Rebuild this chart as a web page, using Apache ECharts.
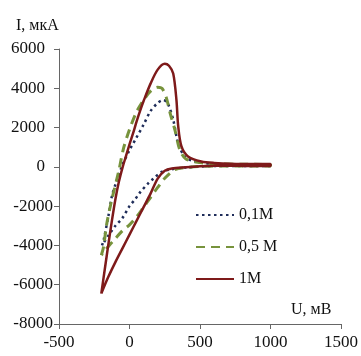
<!DOCTYPE html>
<html>
<head>
<meta charset="utf-8">
<script src="https://cdn.jsdelivr.net/npm/echarts@6/dist/echarts.min.js"></script>
<style>
html,body{margin:0;padding:0;background:#fff;}
#c{width:361px;height:356px;}
</style>
</head>
<body>
<div id="c"></div>
<script>
// Series names
const seriesNames = ['0,1M', '0,5 M', '1M'];

// 0,1M (forward sweep then return sweep)
const u01 = [-195,-183,-148,-125,-100,-50,0,50,100,150,200,240,270,310,345,392,450,600,800,1000,
             1000,800,600,400,300,228,170,134,75,40,0,-50,-100,-150,-195];
const i01 = [-4000,-3710,-2440,-1500,-900,100,850,1500,2150,2850,3250,3400,3250,2400,1200,520,300,150,130,120,
             40,40,40,-30,-120,-260,-600,-830,-1300,-1650,-2000,-2600,-3000,-3500,-4000];

// 0,5 M
const u05 = [-200,-185,-160,-125,-77,-42,0,50,100,150,200,230,260,290,322,357,400,500,600,800,1000,
             1000,800,600,400,320,250,200,150,100,50,0,-50,-100,-150,-200];
const i05 = [-4500,-4100,-2850,-1650,-240,950,1900,2800,3400,3850,4050,4000,3550,2690,1880,865,400,220,160,130,120,
             40,40,40,-30,-150,-580,-1050,-1550,-2050,-2550,-2950,-3250,-3650,-4050,-4500];

// 1M
const u1 = [-200,-175,-150,-125,-100,-75,-50,-25,0,25,50,75,100,150,200,250,280,310,333,345,368,415,509,600,800,1000,
            1000,800,600,500,400,300,250,200,150,100,50,0,-50,-100,-150,-200];
const i1 = [-6450,-5200,-3950,-2750,-1650,-750,-50,550,1150,1700,2300,2850,3350,4250,4950,5250,5150,4750,3400,2100,1050,530,270,200,150,150,
            50,50,60,30,-20,-80,-200,-600,-1350,-2050,-2750,-3450,-4150,-4850,-5600,-6450];

// Axis ticks
const xMin = -500, xMax = 1500, xStep = 500;
const yMin = -8000, yMax = 6000, yStep = 2000;
const yTitle = 'I, мкА';
const xTitle = 'U, мВ';

function pairs(u, i) { return u.map((v, k) => [v, i[k]]); }

const font = 'Liberation Serif';
const chart = echarts.init(document.getElementById('c'), null, {renderer: 'canvas'});
chart.setOption({
  animation: false,
  backgroundColor: '#fff',
  textStyle: {fontFamily: font},
  title: [
    {text: yTitle, left: 16, top: 18, padding: 0,
     textStyle: {fontFamily: font, fontSize: 16, fontWeight: 'normal', color: '#111'}},
    {text: xTitle, left: 291, top: 302, padding: 0,
     textStyle: {fontFamily: font, fontSize: 16, fontWeight: 'normal', color: '#111'}}
  ],
  grid: {left: 59, right: 17, top: 49, bottom: 32, containLabel: false},
  legend: {
    orient: 'vertical', left: 195, top: 207, padding: 0,
    itemWidth: 38, itemHeight: 16, itemGap: 16,
    itemStyle: {color: 'rgba(0,0,0,0)', borderColor: 'rgba(0,0,0,0)', borderWidth: 0},
    textStyle: {fontFamily: font, fontSize: 16, color: '#111'},
    data: seriesNames
  },
  xAxis: {
    type: 'value', min: xMin, max: xMax, interval: xStep,
    axisLine: {show: true, onZero: false, lineStyle: {color: '#666', width: 1}},
    axisTick: {show: true, length: 5, lineStyle: {color: '#666'}},
    splitLine: {show: false},
    axisLabel: {fontFamily: font, fontSize: 17, color: '#111', margin: 10,
                formatter: v => String(v)}
  },
  yAxis: {
    type: 'value', min: yMin, max: yMax, interval: yStep,
    axisLine: {show: true, onZero: false, lineStyle: {color: '#666', width: 1}},
    axisTick: {show: true, length: 5, lineStyle: {color: '#666'}},
    splitLine: {show: false},
    axisLabel: {
      fontFamily: font, fontSize: 17, color: '#111', margin: 6,
      formatter: v => v >= 0 ? '{p|' + v + '}' : '{n|' + v + '}',
      rich: {
        p: {fontFamily: font, fontSize: 17, color: '#111', padding: [0, 8, 0, 0]},
        n: {fontFamily: font, fontSize: 17, color: '#111'}
      }
    }
  },
  series: [
    {name: seriesNames[0], type: 'line', data: pairs(u01, i01), symbol: 'none', smooth: 0.3,
     lineStyle: {color: '#1f2d5a', width: 2.5, type: [2.5, 3.5]}, itemStyle: {color: '#1f2d5a'}},
    {name: seriesNames[1], type: 'line', data: pairs(u05, i05), symbol: 'none', smooth: 0.3,
     lineStyle: {color: '#77933c', width: 3, type: [9, 6]}, itemStyle: {color: '#77933c'}},
    {name: seriesNames[2], type: 'line', data: pairs(u1, i1), symbol: 'none', smooth: 0.3,
     lineStyle: {color: '#7e1a1a', width: 2.5}, itemStyle: {color: '#7e1a1a'}}
  ]
});
</script>
</body>
</html>
